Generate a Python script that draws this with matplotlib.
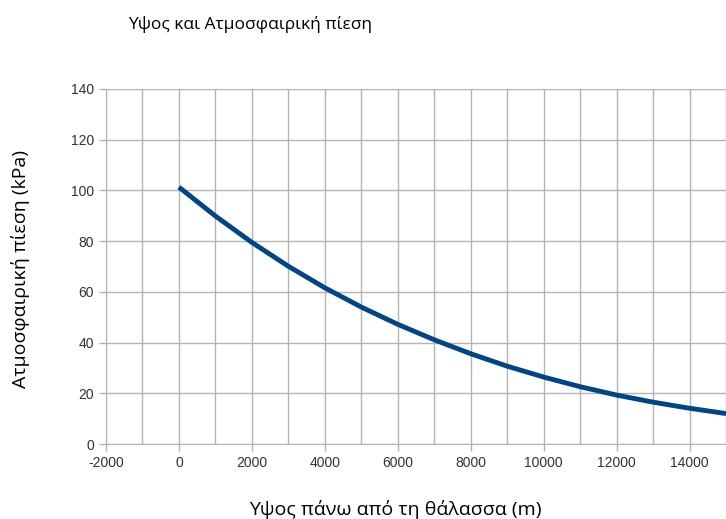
import matplotlib
matplotlib.use("Agg")
import matplotlib.pyplot as plt
from matplotlib.ticker import MultipleLocator

# ύψος (m) και πίεση (kPa)
ypsos = [0, 1000, 2000, 3000, 4000, 5000, 6000, 7000, 8000,
         9000, 10000, 11000, 12000, 13000, 14000, 15000]
piesi = [101.3, 89.9, 79.5, 70.1, 61.6, 54.0, 47.2, 41.1, 35.6,
         30.7, 26.4, 22.6, 19.3, 16.5, 14.1, 12.0]

plt.rcParams['font.family'] = ['Liberation Sans', 'DejaVu Sans']
plt.rcParams['axes.unicode_minus'] = False

fig = plt.figure(figsize=(7.26, 5.19), dpi=100)
ax = fig.add_axes([106/726, 75/519, 620/726, 355/519])

ax.plot(ypsos, piesi, color='#004586', lw=3.5, solid_capstyle='butt', zorder=3)

ax.set_xlim(-2000, 15000)
ax.set_ylim(0, 140)
ax.xaxis.set_major_locator(MultipleLocator(2000))
ax.xaxis.set_minor_locator(MultipleLocator(1000))
ax.yaxis.set_major_locator(MultipleLocator(20))
ax.grid(True, which='both', color='#b3b3b3', lw=1)
ax.set_axisbelow(True)

for s in ['top', 'right']:
    ax.spines[s].set_visible(False)
for s in ['left', 'bottom']:
    ax.spines[s].set_color('#b3b3b3')
ax.tick_params(which='major', colors='#b3b3b3', labelcolor='#333333',
               labelsize=10, length=5, width=1)
ax.tick_params(which='minor', length=0)

fig.text(250/726, 0.952, 'Υψος και Ατμοσφαιρική πίεση', ha='center', va='center',
         fontsize=12.5, family=['Open Sans', 'DejaVu Sans'], color='#000000')
fig.text(395/726, 0.019, 'Υψος πάνω από τη θάλασσα (m)', ha='center', va='center',
         fontsize=14, family=['Open Sans', 'DejaVu Sans'])
fig.text(0.028, 1 - 269/519, 'Ατμοσφαιρική πίεση (kPa)', ha='center', va='center',
         rotation=90, fontsize=14, family=['Open Sans', 'DejaVu Sans'])

fig.savefig('out.png', dpi=100)
